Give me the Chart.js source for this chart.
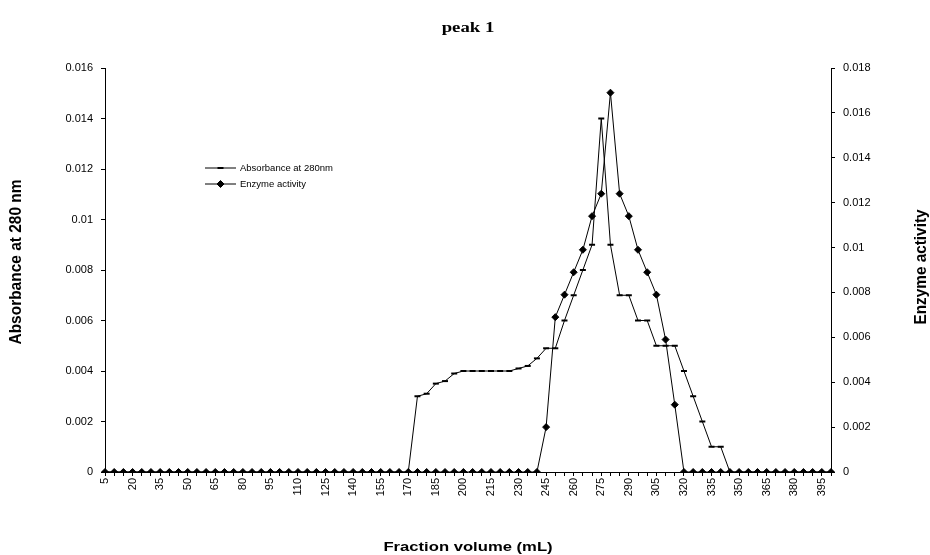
<!DOCTYPE html>
<html>
<head>
<meta charset="utf-8">
<script src="https://cdn.jsdelivr.net/npm/chart.js@4/dist/chart.umd.min.js"></script>
<style>
  html, body { margin: 0; padding: 0; background: #fff; }
  #wrap { width: 930px; height: 555px; }
</style>
</head>
<body>
<div id="wrap"><canvas id="chart" width="930" height="555"></canvas></div>
<script>
// fraction volumes (mL), one point every 5 mL
const fractions = [
    5, 10, 15, 20, 25, 30, 35, 40, 45, 50, 55, 60, 65, 70, 75, 80, 85, 90, 95, 100,
    105, 110, 115, 120, 125, 130, 135, 140, 145, 150, 155, 160, 165, 170, 175, 180, 185, 190, 195, 200,
    205, 210, 215, 220, 225, 230, 235, 240, 245, 250, 255, 260, 265, 270, 275, 280, 285, 290, 295, 300,
    305, 310, 315, 320, 325, 330, 335, 340, 345, 350, 355, 360, 365, 370, 375, 380, 385, 390, 395, 400
];

const absorbance280 = [
    0, 0, 0, 0, 0, 0, 0, 0, 0, 0, 0, 0, 0, 0, 0, 0, 0, 0, 0, 0,
    0, 0, 0, 0, 0, 0, 0, 0, 0, 0, 0, 0, 0, 0, 0.003, 0.0031, 0.0035, 0.0036, 0.0039, 0.004,
    0.004, 0.004, 0.004, 0.004, 0.004, 0.0041, 0.0042, 0.0045, 0.0049, 0.0049, 0.006, 0.007, 0.008, 0.009, 0.014, 0.009, 0.007, 0.007, 0.006, 0.006,
    0.005, 0.005, 0.005, 0.004, 0.003, 0.002, 0.001, 0.001, 0, 0, 0, 0, 0, 0, 0, 0, 0, 0, 0, 0
];

const enzymeActivity = [
    0, 0, 0, 0, 0, 0, 0, 0, 0, 0, 0, 0, 0, 0, 0, 0, 0, 0, 0, 0,
    0, 0, 0, 0, 0, 0, 0, 0, 0, 0, 0, 0, 0, 0, 0, 0, 0, 0, 0, 0,
    0, 0, 0, 0, 0, 0, 0, 0, 0.002, 0.0069, 0.0079, 0.0089, 0.0099, 0.0114, 0.0124, 0.0169, 0.0124, 0.0114, 0.0099, 0.0089,
    0.0079, 0.0059, 0.003, 0, 0, 0, 0, 0, 0, 0, 0, 0, 0, 0, 0, 0, 0, 0, 0, 0
];

const leftTicks = { min: 0, max: 0.016, step: 0.002 };
const rightTicks = { min: 0, max: 0.018, step: 0.002 };

Chart.defaults.font.family = "'Liberation Sans', Arial, sans-serif";
Chart.defaults.font.size = 11;
Chart.defaults.color = "#000";

// text with a horizontal/vertical stretch, optionally rotated
function stretchedText(ctx, text, x, y, font, rot, sx, sy) {
    ctx.save();
    ctx.translate(x, y);
    ctx.rotate(rot);
    ctx.scale(sx, sy);
    ctx.font = font;
    ctx.fillStyle = "#000";
    ctx.textAlign = "center";
    ctx.textBaseline = "middle";
    ctx.fillText(text, 0, 0);
    ctx.restore();
}

const titlesPlugin = {
    id: "titles",
    afterDraw(chart) {
        const ctx = chart.ctx;
        stretchedText(ctx, "peak 1", 468, 28, "bold 15px 'Liberation Serif', 'Times New Roman', serif", 0, 1.25, 1);
        stretchedText(ctx, "Fraction volume (mL)", 468, 547, "bold 13px 'Liberation Sans', Arial", 0, 1.28, 1);
        stretchedText(ctx, "Absorbance at 280 nm", 17, 262, "bold 13px 'Liberation Sans', Arial", -Math.PI / 2, 1.19, 1.2);
        stretchedText(ctx, "Enzyme activity", 922, 267, "bold 13px 'Liberation Sans', Arial", -Math.PI / 2, 1.18, 1.2);
    },
};

// legend sitting inside the plot, upper left
const innerLegend = {
    id: "innerLegend",
    afterDraw(chart) {
        const ctx = chart.ctx;
        const rows = [168, 184];
        chart.data.datasets.forEach((ds, i) => {
            const y = rows[i];
            ctx.save();
            ctx.strokeStyle = "#000";
            ctx.fillStyle = "#000";
            ctx.lineWidth = 1;
            ctx.beginPath();
            ctx.moveTo(205, y);
            ctx.lineTo(236, y);
            ctx.stroke();
            ctx.lineWidth = ds.pointBorderWidth;
            Chart.helpers.drawPoint(ctx, {
                pointStyle: ds.pointStyle,
                radius: ds.pointRadius,
                rotation: 0,
                borderWidth: ds.pointBorderWidth,
            }, 220.5, y);
            ctx.font = "9.5px 'Liberation Sans', Arial";
            ctx.textBaseline = "middle";
            ctx.fillText(ds.label, 240, y);
            ctx.restore();
        });
    },
};

const yGrid = { drawOnChartArea: false, drawTicks: true, tickLength: 4, color: "#000" };
const axisBorder = { display: true, color: "#000", width: 1 };

const chart = new Chart(document.getElementById("chart"), {
    type: "line",
    data: {
        labels: fractions.map(String),
        datasets: [
            {
                label: "Absorbance at 280nm",
                data: absorbance280,
                yAxisID: "y",
                borderColor: "#000",
                backgroundColor: "#000",
                borderWidth: 1,
                pointStyle: "line",
                pointRadius: 3,
                pointBorderWidth: 2,
                tension: 0,
            },
            {
                label: "Enzyme activity",
                data: enzymeActivity,
                yAxisID: "y1",
                borderColor: "#000",
                backgroundColor: "#000",
                borderWidth: 1,
                pointStyle: "rectRot",
                pointRadius: 3.5,
                pointBorderWidth: 1,
                tension: 0,
            },
        ],
    },
    options: {
        responsive: false,
        animation: false,
        devicePixelRatio: 1,
        layout: { padding: { top: 68, left: 0, right: 0, bottom: 0 } },
        plugins: {
            legend: { display: false },
            title: { display: false },
            tooltip: { enabled: false },
        },
        scales: {
            x: {
                type: "category",
                offset: false,
                grid: { drawOnChartArea: false, drawTicks: true, tickLength: 4, color: "#000" },
                border: axisBorder,
                ticks: {
                    autoSkip: false,
                    maxRotation: 90,
                    minRotation: 90,
                    padding: 2,
                    callback: (val, idx) => (idx % 3 === 0 ? fractions[idx] : ""),
                },
                afterFit(scale) { scale.height = 83; },
            },
            y: {
                position: "left",
                min: leftTicks.min,
                max: leftTicks.max,
                grid: yGrid,
                border: axisBorder,
                ticks: {
                    stepSize: leftTicks.step,
                    padding: 8,
                    callback: (v) => +v.toFixed(3),
                },
                afterFit(scale) { scale.width = 105; },
            },
            y1: {
                position: "right",
                min: rightTicks.min,
                max: rightTicks.max,
                grid: yGrid,
                border: axisBorder,
                ticks: {
                    stepSize: rightTicks.step,
                    padding: 8,
                    callback: (v) => +v.toFixed(3),
                },
                afterFit(scale) { scale.width = 99; },
            },
        },
    },
    plugins: [titlesPlugin, innerLegend],
});
</script>
</body>
</html>
